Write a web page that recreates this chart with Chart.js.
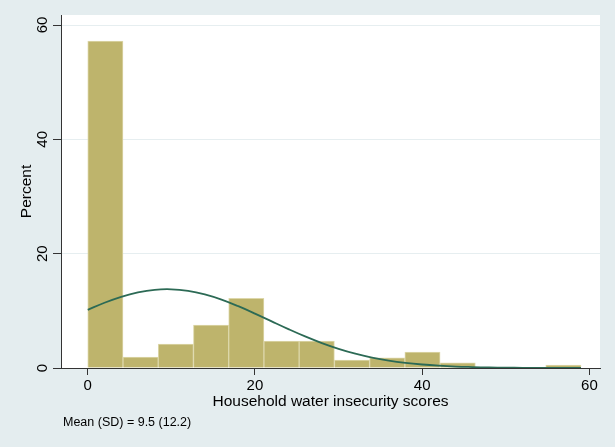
<!DOCTYPE html>
<html><head><meta charset="utf-8">
<script src="https://cdn.jsdelivr.net/npm/chart.js@4/dist/chart.umd.min.js"></script>
<style>html,body{margin:0;padding:0;background:#E4EDEF;overflow:hidden}#wrap{width:615px;height:447px}</style>
</head><body><div id="wrap"><canvas id="c" width="615" height="447"></canvas></div>
<script>
// ---- data ----
const binLow = 0;
const binHigh = 59;
const binPercent = [57.2, 1.9, 4.2, 7.5, 12.2, 4.7, 4.7, 1.4, 1.8, 2.8, 0.9, 0, 0, 0.5];
const curveX = [0, 2, 4, 6, 8, 10, 12, 14, 16, 18, 20, 22, 24, 26, 28, 30, 32, 34, 36, 38, 40, 42, 44, 46, 48, 50, 52, 54, 56, 58, 59];
const curveY = [10.18, 11.41, 12.45, 13.22, 13.68, 13.77, 13.49, 12.87, 11.96, 10.81, 9.52, 8.15, 6.80, 5.52, 4.36, 3.36, 2.51, 1.83, 1.30, 0.90, 0.61, 0.40, 0.25, 0.16, 0.09, 0.06, 0.03, 0.02, 0.01, 0.00, 0.00];
const xTicks = [0, 20, 40, 60];
const yTicks = [0, 20, 40, 60];
const xTitle = 'Household water insecurity scores';
const yTitle = 'Percent';
const noteText = 'Mean (SD) = 9.5 (12.2)';

const FONT = '"Liberation Sans", Arial, Helvetica, sans-serif';
const binW = (binHigh - binLow) / binPercent.length;
const barData = binPercent.map((v, i) => ({x: binLow + binW * (i + 0.5), y: v}));
const curveData = curveX.map((x, i) => ({x: x, y: curveY[i]}));

const plotBg = {
  id: 'plotBg',
  beforeDraw(chart) {
    const {ctx, chartArea: a} = chart;
    ctx.save();
    ctx.fillStyle = '#ffffff';
    ctx.fillRect(a.left, a.top, a.right - a.left, a.bottom - a.top);
    ctx.restore();
  }
};
const yLabels = {
  id: 'yLabels',
  afterDraw(chart) {
    const s = chart.scales.y, ctx = chart.ctx;
    ctx.save();
    ctx.font = '15px ' + FONT;
    ctx.fillStyle = '#000';
    ctx.textAlign = 'center';
    ctx.textBaseline = 'middle';
    s.ticks.forEach(t => {
      const y = s.getPixelForValue(t.value);
      ctx.save();
      ctx.translate(s.right - 18.5, y);
      ctx.rotate(-Math.PI / 2);
      ctx.fillText(String(t.label), 0, 0);
      ctx.restore();
    });
    ctx.font = '12.5px ' + FONT;
    ctx.textAlign = 'left';
    ctx.fillText(noteText, 63, 422.5);
    ctx.restore();
  }
};

new Chart(document.getElementById('c'), {
  type: 'bar',
  data: {
    datasets: [
      {
        type: 'line',
        data: curveData,
        borderColor: '#2C6A55',
        borderWidth: 1.8,
        pointRadius: 0,
        tension: 0.4,
        fill: false,
        order: 0
      },
      {
        type: 'bar',
        data: barData,
        backgroundColor: '#BEB46C',
        borderColor: '#DDD7AA',
        borderWidth: 1,
        barPercentage: 1,
        categoryPercentage: 1,
        order: 1
      }
    ]
  },
  options: {
    responsive: false,
    animation: false,
    devicePixelRatio: 1,
    layout: {padding: {top: 15, right: 15, left: 0, bottom: 0}},
    plugins: {legend: {display: false}, tooltip: {enabled: false}},
    scales: {
      x: {
        type: 'linear',
        min: -3.2,
        max: 61.27,
        offset: false,
        afterBuildTicks(s) { s.ticks = xTicks.map(v => ({value: v})); },
        ticks: {font: {size: 15, family: FONT}, color: '#000', padding: 2, maxRotation: 0, autoSkip: false},
        grid: {offset: false, drawOnChartArea: false, drawTicks: true, tickLength: 7, tickColor: '#333'},
        border: {display: true, color: '#333', width: 1},
        title: {display: true, text: xTitle, color: '#000', font: {size: 15.5, family: FONT}, padding: {top: 0, bottom: 35.5}},
        afterFit(s) { s.height = 79; }
      },
      y: {
        type: 'linear',
        min: 0,
        max: 61.75,
        afterBuildTicks(s) { s.ticks = yTicks.map(v => ({value: v})); },
        ticks: {color: 'rgba(0,0,0,0)', font: {size: 15, family: FONT}},
        grid: {
          offset: false,
          color: c => (c.tick && c.tick.value === 0) ? 'rgba(0,0,0,0)' : '#E6EEF0',
          lineWidth: 1,
          drawTicks: true,
          tickLength: 8,
          tickColor: '#333'
        },
        border: {display: true, color: '#333', width: 1},
        title: {display: true, text: yTitle, color: '#000', font: {size: 15.5, family: FONT}, padding: {top: 17.5, bottom: 0}},
        afterFit(s) { s.width = 61; }
      }
    }
  },
  plugins: [plotBg, yLabels]
});
</script>
</body></html>
